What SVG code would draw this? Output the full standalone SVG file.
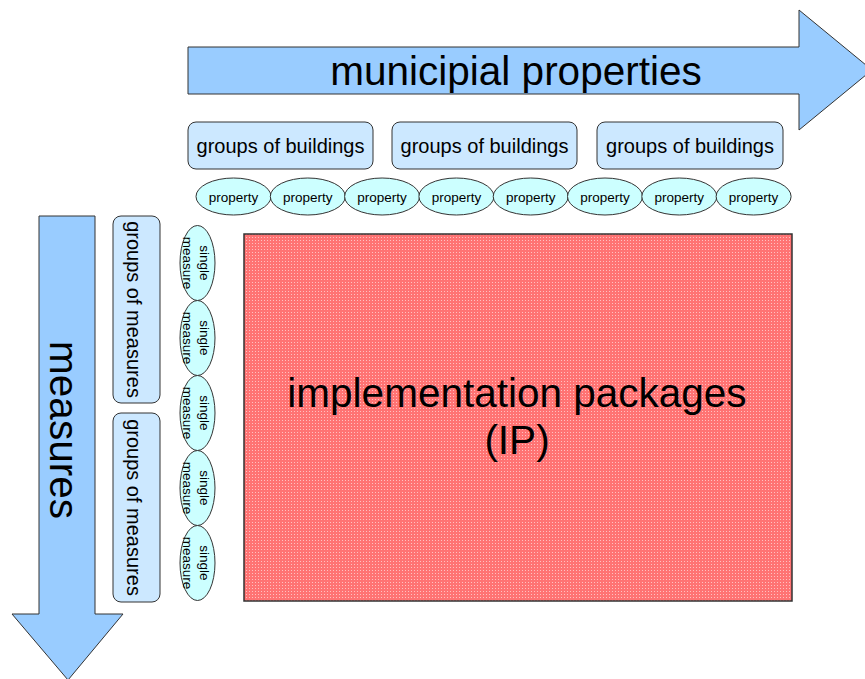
<svg xmlns="http://www.w3.org/2000/svg" width="865" height="679" viewBox="0 0 865 679">
<style>
  text { font-family: "Liberation Sans", Arial, sans-serif; fill: #000; }
  .arrow { fill: #99CCFF; stroke: #333; stroke-width: 1; }
  .box { fill: #CCE8FF; stroke: #333; stroke-width: 1; }
  .ell { fill: #CCFFFF; stroke: #333; stroke-width: 1; }
  .big { font-size: 40.5px; text-anchor: middle; }
  .grp { font-size: 20px; text-anchor: middle; }
  .sm { font-size: 13.5px; text-anchor: middle; }
</style>
<defs>
  <pattern id="hatch" width="3" height="3" patternUnits="userSpaceOnUse">
    <rect width="3" height="3" fill="#FF7373"/>
    <rect x="0" y="0" width="1" height="1" fill="#FFC0C0"/>
  </pattern>
</defs>
<rect width="865" height="679" fill="#FFFFFF"/>

<g id="arrow-properties">
  <polygon class="arrow" points="188,47 799,47 799,10 872,70 799,130 799,94 188,94"/>
  <text class="big" x="516" y="85">municipial properties</text>
</g>

<g id="arrow-measures">
  <polygon class="arrow" points="39,216 95,216 95,614 123,614 68,680 12,614 39,614"/>
  <text class="big" transform="translate(50,430) rotate(90)" x="0" y="0">measures</text>
</g>

<g id="groups-buildings">
  <g id="gb1"><rect class="box" x="188" y="122" width="185" height="47" rx="8"/><text class="grp" x="280.5" y="153">groups of buildings</text></g>
  <g id="gb2"><rect class="box" x="392" y="122" width="185" height="47" rx="8"/><text class="grp" x="484.5" y="153">groups of buildings</text></g>
  <g id="gb3"><rect class="box" x="597" y="122" width="186" height="47" rx="8"/><text class="grp" x="690" y="153">groups of buildings</text></g>
</g>

<g id="properties">
  <g id="p1"><ellipse class="ell" cx="233.5" cy="196.5" rx="37.5" ry="18.5"/><text class="sm" x="233.5" y="201.5">property</text></g>
  <g id="p2"><ellipse class="ell" cx="307.8" cy="196.5" rx="37.5" ry="18.5"/><text class="sm" x="307.8" y="201.5">property</text></g>
  <g id="p3"><ellipse class="ell" cx="382.1" cy="196.5" rx="37.5" ry="18.5"/><text class="sm" x="382.1" y="201.5">property</text></g>
  <g id="p4"><ellipse class="ell" cx="456.4" cy="196.5" rx="37.5" ry="18.5"/><text class="sm" x="456.4" y="201.5">property</text></g>
  <g id="p5"><ellipse class="ell" cx="530.7" cy="196.5" rx="37.5" ry="18.5"/><text class="sm" x="530.7" y="201.5">property</text></g>
  <g id="p6"><ellipse class="ell" cx="605" cy="196.5" rx="37.5" ry="18.5"/><text class="sm" x="605" y="201.5">property</text></g>
  <g id="p7"><ellipse class="ell" cx="679.3" cy="196.5" rx="37.5" ry="18.5"/><text class="sm" x="679.3" y="201.5">property</text></g>
  <g id="p8"><ellipse class="ell" cx="753.6" cy="196.5" rx="37.5" ry="18.5"/><text class="sm" x="753.6" y="201.5">property</text></g>
</g>

<g id="groups-measures">
  <g id="gm1"><rect class="box" x="113" y="216" width="47" height="187" rx="8"/><text class="grp" transform="translate(127,309.5) rotate(90)" x="0" y="0">groups of measures</text></g>
  <g id="gm2"><rect class="box" x="113" y="413" width="47" height="189" rx="8"/><text class="grp" transform="translate(127,507.5) rotate(90)" x="0" y="0">groups of measures</text></g>
</g>

<g id="single-measures">
  <g id="m1"><ellipse class="ell" cx="197.5" cy="263" rx="17.5" ry="37.5"/><text class="sm" transform="translate(197.5,263) rotate(90)"><tspan x="0" y="-2.5">single</tspan><tspan x="0" y="15">measure</tspan></text></g>
  <g id="m2"><ellipse class="ell" cx="197.5" cy="338" rx="17.5" ry="37.5"/><text class="sm" transform="translate(197.5,338) rotate(90)"><tspan x="0" y="-2.5">single</tspan><tspan x="0" y="15">measure</tspan></text></g>
  <g id="m3"><ellipse class="ell" cx="197.5" cy="413" rx="17.5" ry="37.5"/><text class="sm" transform="translate(197.5,413) rotate(90)"><tspan x="0" y="-2.5">single</tspan><tspan x="0" y="15">measure</tspan></text></g>
  <g id="m4"><ellipse class="ell" cx="197.5" cy="488" rx="17.5" ry="37.5"/><text class="sm" transform="translate(197.5,488) rotate(90)"><tspan x="0" y="-2.5">single</tspan><tspan x="0" y="15">measure</tspan></text></g>
  <g id="m5"><ellipse class="ell" cx="197.5" cy="563" rx="17.5" ry="37.5"/><text class="sm" transform="translate(197.5,563) rotate(90)"><tspan x="0" y="-2.5">single</tspan><tspan x="0" y="15">measure</tspan></text></g>
</g>

<g id="implementation-packages">
  <rect x="244" y="234" width="548" height="367" fill="#FF8080"/>
  <rect x="244" y="234" width="548" height="367" fill="url(#hatch)" stroke="#333" stroke-width="1.5"/>
  <text class="big" x="517" y="407">implementation packages</text>
  <text class="big" x="517" y="454">(IP)</text>
</g>

<g id="connectors"></g>
</svg>
